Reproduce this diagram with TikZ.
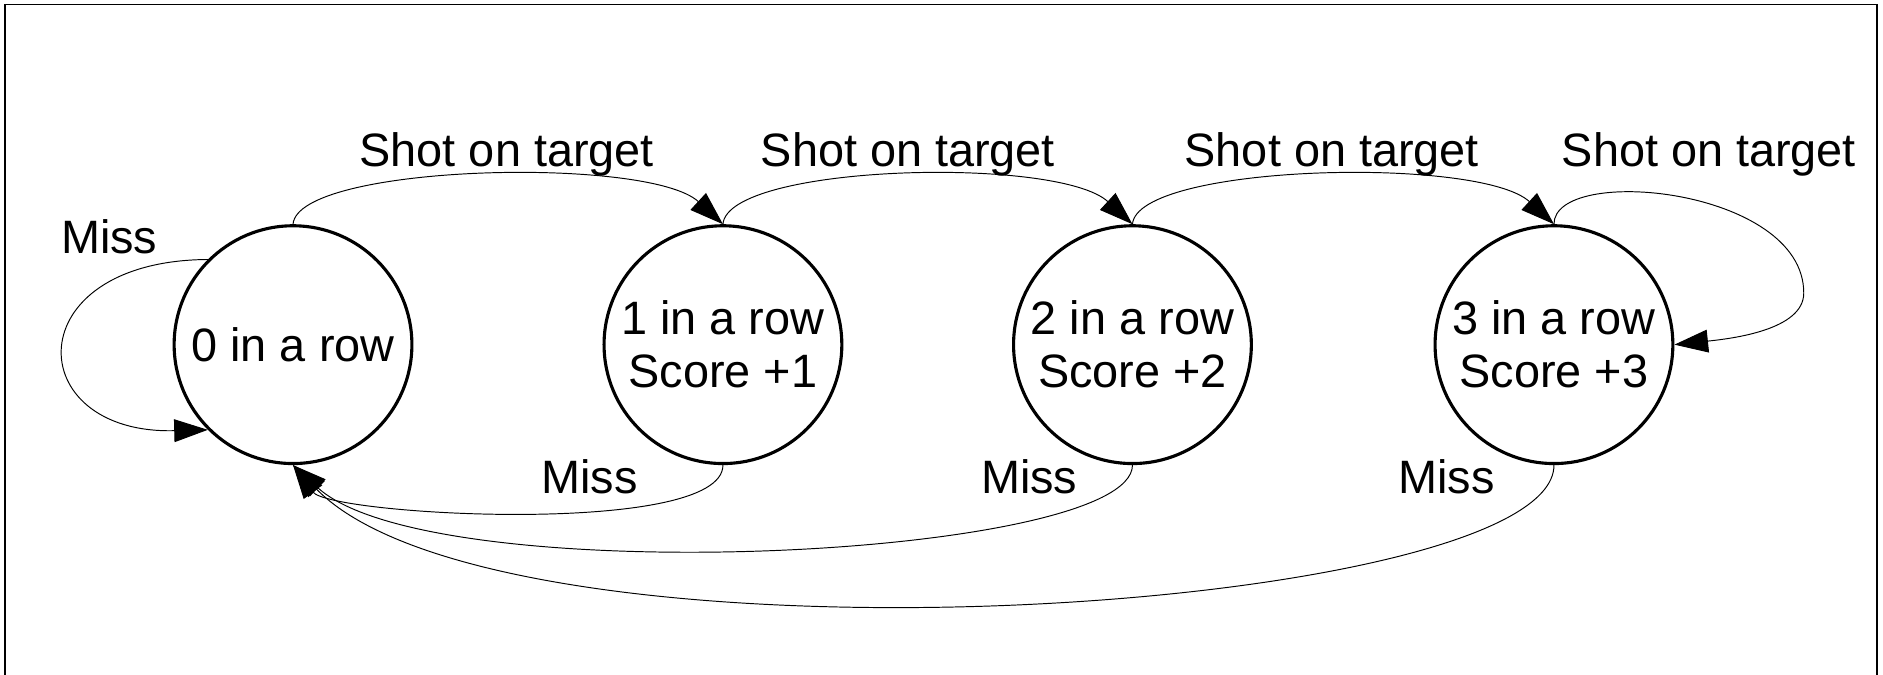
\documentclass[tikz,border=0pt]{standalone}
\usepackage{fontspec}
\setmainfont{Liberation Sans}
\usetikzlibrary{arrows.meta}
\begin{document}
\begin{tikzpicture}[x=1pt,y=-1pt,
  state/.style={circle, draw, line width=2.6pt, minimum size=198pt, inner sep=0pt, align=center, font=\fontsize{39}{44}\selectfont},
  lbl/.style={anchor=base, inner sep=0pt, font=\fontsize{39}{44}\selectfont},
  edge/.style={line width=0.8pt, -{Triangle[length=28pt,width=19pt]}},
  frame/.style={line width=1.1pt}]
\useasboundingbox (0,0) rectangle (1568,562);
\draw[frame] (4.2,562) -- (4.2,3.6) -- (1563,3.6) -- (1563,562);

\node[state] (c0) at (244,287) {0 in a row};
\node[state] (c1) at (602,287) {1 in a row\\Score +1};
\node[state] (c2) at (943,287) {2 in a row\\Score +2};
\node[state] (c3) at (1294,287) {3 in a row\\Score +3};

\node[lbl] (l1) at (422,139) {Shot on target};
\node[lbl] (l2) at (756,139) {Shot on target};
\node[lbl] (l3) at (1109,139) {Shot on target};
\node[lbl] (l4) at (1423,139) {Shot on target};
\node[lbl] (l5) at (91,211) {Miss};
\node[lbl] (l6) at (491,410.6) {Miss};
\node[lbl] (l7) at (857,410.6) {Miss};
\node[lbl] (l8) at (1204.5,410.6) {Miss};

\coordinate (loopR) at (1502,244);

\draw[edge] (c0.north) .. controls +(4,-50) and +(-62,-57) .. (c1.north);
\draw[edge] (c1.north) .. controls +(4,-50) and +(-62,-57) .. (c2.north);
\draw[edge] (c2.north) .. controls +(4,-50) and +(-62,-57) .. (c3.north);
\draw[edge] (c3.north) .. controls +(0,-50) and +(0,-88) .. (loopR) .. controls +(0,31) and +(47,-5) .. (c3.east);
\draw[edge] (c0.135) .. controls +(-160,1) and +(-156,4) .. (c0.225);
\draw[edge] (c1.south) .. controls +(0,60) and +(31,42) .. (c0.south);
\draw[edge] (c2.south) .. controls +(0,78) and +(116,106) .. (c0.south);
\draw[edge] (c3.south) .. controls +(0,125) and +(176,180) .. (c0.south);
\end{tikzpicture}
\end{document}
